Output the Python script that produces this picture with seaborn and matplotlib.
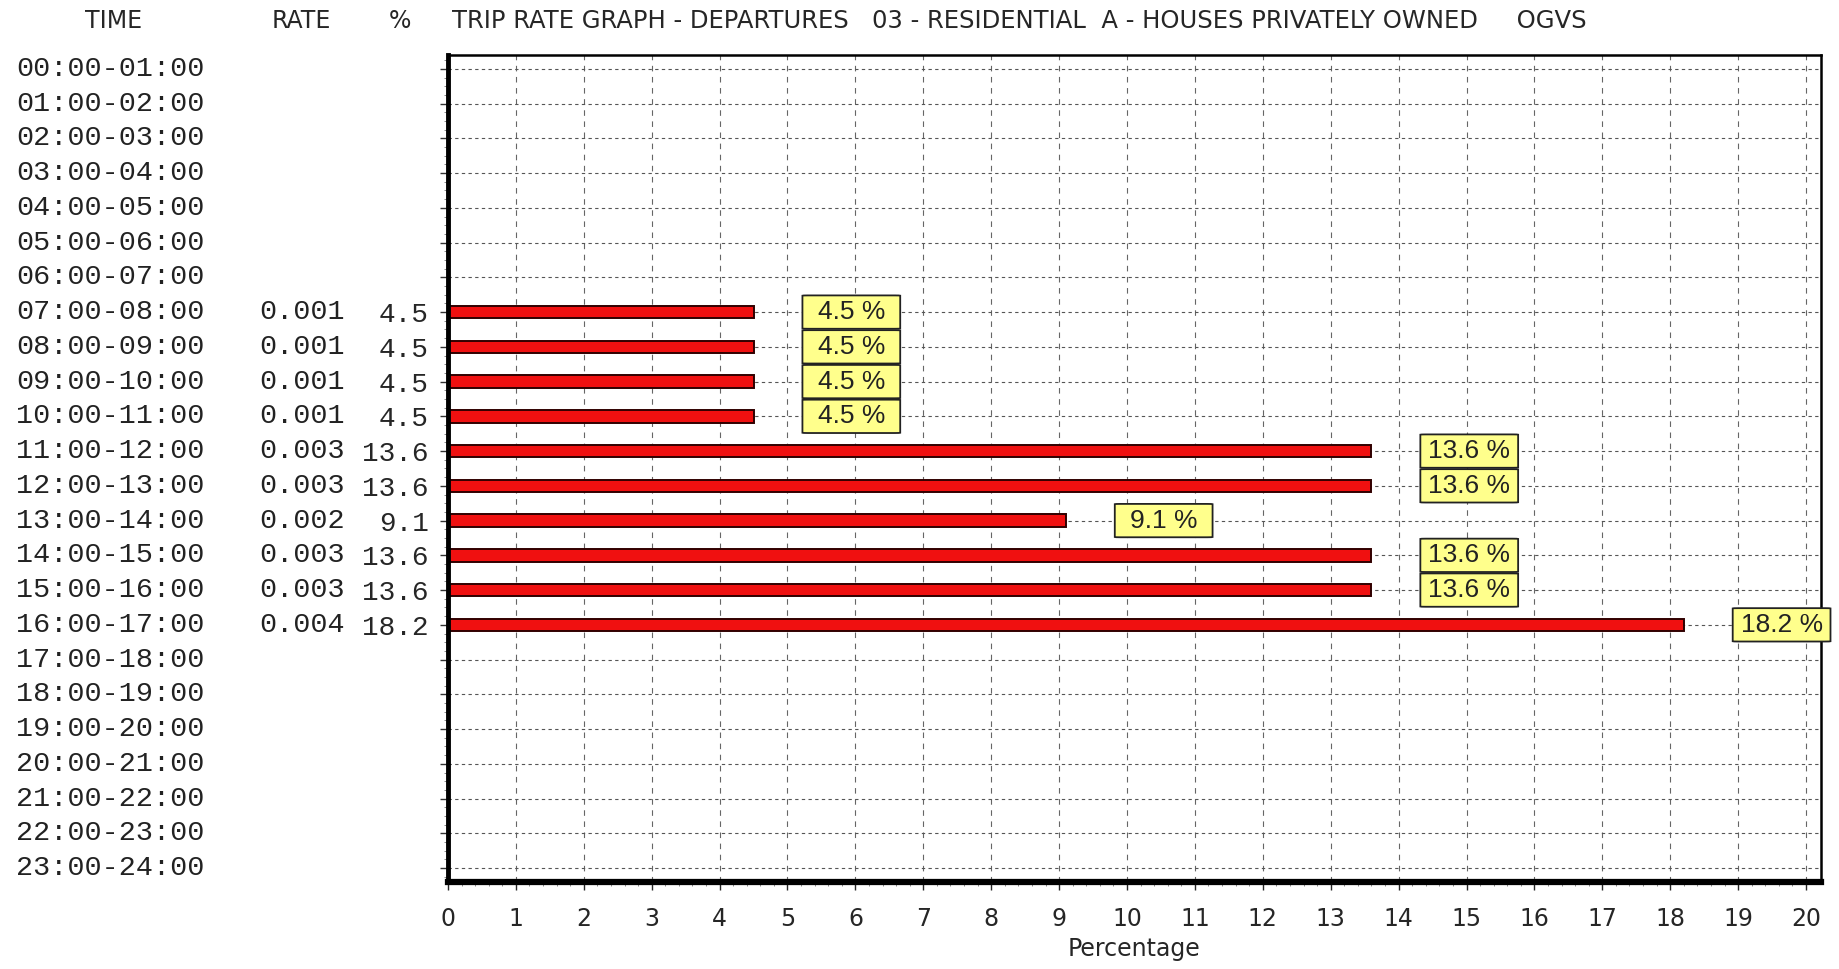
import matplotlib
matplotlib.use("Agg")
import matplotlib.pyplot as plt
import matplotlib.transforms as mtransforms
from matplotlib.patches import FancyBboxPatch
from matplotlib import font_manager
import pandas as pd
import seaborn as sns

# data
times = ["00:00-01:00", "01:00-02:00", "02:00-03:00", "03:00-04:00",
         "04:00-05:00", "05:00-06:00", "06:00-07:00", "07:00-08:00",
         "08:00-09:00", "09:00-10:00", "10:00-11:00", "11:00-12:00",
         "12:00-13:00", "13:00-14:00", "14:00-15:00", "15:00-16:00",
         "16:00-17:00", "17:00-18:00", "18:00-19:00", "19:00-20:00",
         "20:00-21:00", "21:00-22:00", "22:00-23:00", "23:00-24:00"]
bar_times = ["07:00-08:00", "08:00-09:00", "09:00-10:00", "10:00-11:00",
             "11:00-12:00", "12:00-13:00", "13:00-14:00", "14:00-15:00",
             "15:00-16:00", "16:00-17:00"]
bar_rates = ["0.001", "0.001", "0.001", "0.001", "0.003",
             "0.003", "0.002", "0.003", "0.003", "0.004"]
bar_pcts = [4.5, 4.5, 4.5, 4.5, 13.6, 13.6, 9.1, 13.6, 13.6, 18.2]
x_ticks = list(range(0, 21))

title = "TRIP RATE GRAPH - DEPARTURES   03 - RESIDENTIAL  A - HOUSES PRIVATELY OWNED     OGVS"

df = pd.DataFrame({"time": bar_times, "rate": bar_rates, "pct": bar_pcts})

# fonts
installed = {f.name for f in font_manager.fontManager.ttflist}
narrow = "Liberation Sans Narrow" if "Liberation Sans Narrow" in installed else "DejaVu Sans"
mono = "Liberation Mono"

sns.set_style("white")
plt.rcParams["font.family"] = [narrow, "DejaVu Sans"]

fig = plt.figure(figsize=(18.39, 9.69), dpi=100)
ax = fig.add_axes([0.2436, 0.0898, 0.7466, 0.8535])

sns.barplot(data=df, x="pct", y="time", order=times, orient="h",
            color="#f01010", saturation=1, edgecolor="#300000",
            linewidth=1.4, width=0.36, ax=ax)

# grid
for xv in x_ticks[1:]:
    ax.axvline(xv, color="#666666", lw=0.8, ls=(0, (5, 5)), zorder=0)
for yi in range(len(times)):
    ax.axhline(yi, color="#555555", lw=0.8, ls=(0, (3, 3)), zorder=0)

# y labels: percent values next to the axis
pct_map = dict(zip(bar_times, bar_pcts))
rate_map = dict(zip(bar_times, bar_rates))
ax.set_yticks(range(len(times)))
ax.set_yticklabels([f"{pct_map[t]:.1f}" if t in pct_map else "" for t in times],
                   fontfamily=mono, fontsize=20)
ax.set_yticks([v / 4 - 0.25 for v in range(0, 97)], minor=True)
ax.set_ylabel("")
ax.tick_params(axis="y", which="major", length=6, width=1, pad=8, left=True, color="#333333")
ax.tick_params(axis="y", which="minor", length=3, width=0.6, left=True, color="#777777")

ax.set_xticks(x_ticks)
ax.set_xticklabels([str(v) for v in x_ticks], fontsize=17)
ax.set_xticks([v / 5 for v in range(0, 101)], minor=True)
ax.tick_params(axis="x", which="major", length=6, width=1, pad=12, bottom=True)
ax.tick_params(axis="x", which="minor", length=3, width=0.6, bottom=True, color="#777777")
ax.set_xlabel("Percentage", fontsize=17, labelpad=4)

# limits after the ticks so they are not widened
ax.set_xlim(0, 20.22)
ax.set_ylim(23.4, -0.4)

for side, lw in [("left", 3.5), ("bottom", 4.5), ("top", 1.8), ("right", 1.8)]:
    ax.spines[side].set_visible(True)
    ax.spines[side].set_linewidth(lw)
    ax.spines[side].set_color("black")

# left columns: time and rate
trans = mtransforms.blended_transform_factory(fig.transFigure, ax.transData)
for i, t in enumerate(times):
    ax.text(0.0089, i, t, transform=trans, ha="left", va="center",
            fontfamily=mono, fontsize=20.5, color="#222222")
    if t in rate_map:
        ax.text(0.1408, i, rate_map[t], transform=trans, ha="left", va="center",
                fontfamily=mono, fontsize=20.5, color="#222222")

# yellow value boxes
for i, t in enumerate(times):
    if t not in pct_map:
        continue
    v = pct_map[t]
    box = FancyBboxPatch((v + 0.72, i - 0.48), 1.44, 0.96,
                         boxstyle="round,pad=0,rounding_size=0.08",
                         facecolor="#ffff8c", edgecolor="#222222",
                         linewidth=1.3, zorder=4, mutation_aspect=0.1,
                         clip_on=False)
    ax.add_patch(box)
    ax.text(v + 1.44, i, f"{v:.1f} %", ha="center", va="center",
            fontsize=19, color="#222222", zorder=5,
            fontfamily=["Liberation Sans", "DejaVu Sans"])

# header row
fig.text(0.062, 0.978, "TIME", ha="center", va="center", fontsize=17)
fig.text(0.1637, 0.978, "RATE", ha="center", va="center", fontsize=17)
fig.text(0.2175, 0.978, "%", ha="center", va="center", fontsize=17)
fig.text(0.2458, 0.978, title, ha="left", va="center", fontsize=17.5)

fig.savefig("out.png", dpi=100, facecolor="white")
